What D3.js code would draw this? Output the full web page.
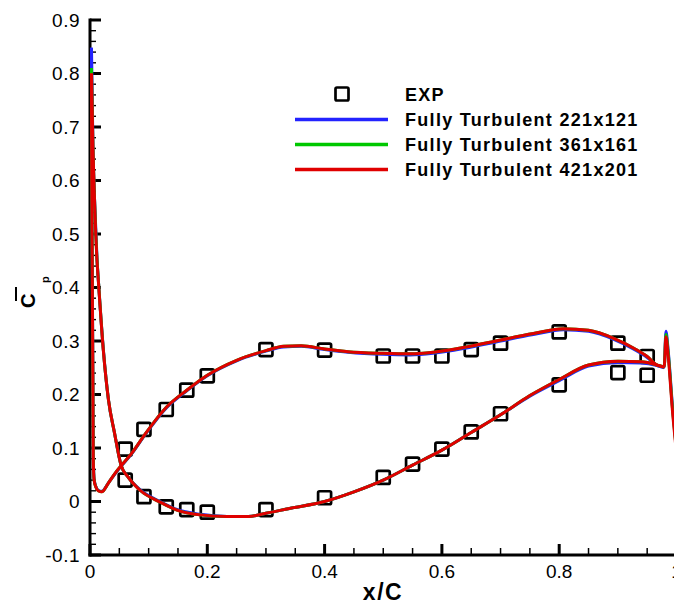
<!DOCTYPE html>
<html><head><meta charset="utf-8">
<script src="https://cdn.jsdelivr.net/npm/d3@7"></script>
<style>
body{margin:0;background:#fff}
svg{display:block;background:#fff}
text{font-family:"Liberation Sans",Arial,Helvetica,sans-serif;fill:#000}
</style>
</head><body>
<svg id="chart" width="674" height="603"></svg>
<script>
// ---------------- data ----------------
const seriesNames = ["Fully Turbulent 221x121", "Fully Turbulent 361x161", "Fully Turbulent 421x201"];
const seriesColors = ["#2323ff", "#00c800", "#e00000"];

// branch with the leading-edge dip (upper Cp over most of the chord)
const xA = [0.0025, 0.003, 0.004, 0.005, 0.0055, 0.007, 0.01, 0.014, 0.02, 0.031, 0.043, 0.054, 0.071, 0.094, 0.131, 0.165, 0.2, 0.25, 0.3, 0.33, 0.36, 0.4, 0.44, 0.5, 0.546, 0.585, 0.642, 0.7, 0.756, 0.807, 0.85, 0.893, 0.928, 0.95, 0.967, 0.979, 0.982, 0.986, 0.993, 1.0];
const cpA221 = [0.848, 0.62, 0.41, 0.21, 0.09, 0.042, 0.028, 0.021, 0.019, 0.034, 0.052, 0.067, 0.089, 0.125, 0.176, 0.207, 0.235, 0.263, 0.281, 0.289, 0.29, 0.284, 0.279, 0.275, 0.274, 0.277, 0.287, 0.3, 0.312, 0.321, 0.318, 0.303, 0.284, 0.269, 0.254, 0.251, 0.318, 0.28, 0.18, 0.1];
const cpA361 = [0.81, 0.61, 0.405, 0.205, 0.085, 0.041, 0.027, 0.02, 0.018, 0.034, 0.053, 0.068, 0.09, 0.126, 0.177, 0.208, 0.236, 0.264, 0.282, 0.29, 0.291, 0.285, 0.28, 0.277, 0.276, 0.279, 0.289, 0.302, 0.314, 0.323, 0.32, 0.305, 0.286, 0.271, 0.255, 0.252, 0.312, 0.276, 0.176, 0.095];
const cpA421 = [0.80, 0.6, 0.4, 0.2, 0.08, 0.04, 0.027, 0.02, 0.018, 0.034, 0.053, 0.068, 0.09, 0.126, 0.177, 0.208, 0.236, 0.264, 0.282, 0.29, 0.291, 0.285, 0.28, 0.277, 0.276, 0.279, 0.289, 0.302, 0.314, 0.323, 0.32, 0.305, 0.286, 0.271, 0.255, 0.252, 0.308, 0.27, 0.171, 0.09];

// branch falling steeply from the stagnation point (lower Cp over most of the chord)
const xB = [0.0025, 0.0051, 0.0077, 0.0119, 0.0145, 0.0227, 0.0315, 0.0418, 0.0529, 0.0648, 0.0853, 0.1194, 0.1483, 0.1875, 0.2336, 0.27, 0.3, 0.34, 0.4, 0.45, 0.5, 0.55, 0.6, 0.65, 0.7, 0.75, 0.8, 0.85, 0.9, 0.94, 0.967, 0.979];
const cpB221 = [0.848, 0.66, 0.567, 0.455, 0.41, 0.285, 0.19, 0.128, 0.068, 0.046, 0.022, 0.0, -0.015, -0.024, -0.028, -0.028, -0.022, -0.013, 0.0, 0.018, 0.04, 0.068, 0.096, 0.129, 0.162, 0.197, 0.226, 0.253, 0.26, 0.259, 0.254, 0.25];
const cpB361 = [0.81, 0.659, 0.566, 0.453, 0.41, 0.284, 0.19, 0.128, 0.068, 0.046, 0.021, -0.001, -0.016, -0.025, -0.028, -0.028, -0.022, -0.013, 0.0, 0.018, 0.04, 0.068, 0.096, 0.129, 0.162, 0.198, 0.228, 0.255, 0.262, 0.261, 0.255, 0.251];
const cpB421 = [0.80, 0.657, 0.564, 0.451, 0.408, 0.283, 0.19, 0.128, 0.068, 0.046, 0.021, -0.001, -0.016, -0.025, -0.028, -0.028, -0.022, -0.013, 0.0, 0.018, 0.04, 0.068, 0.096, 0.129, 0.162, 0.198, 0.228, 0.255, 0.262, 0.261, 0.255, 0.251];

// experiment
const expX = [0.06, 0.092, 0.13, 0.165, 0.2, 0.3, 0.4, 0.5, 0.55, 0.6, 0.65, 0.7, 0.8, 0.9, 0.95];
const expUpper = [0.098, 0.135, 0.172, 0.208, 0.235, 0.284, 0.283, 0.272, 0.272, 0.272, 0.284, 0.296, 0.317, 0.296, 0.271];
const expLower = [0.04, 0.009, -0.01, -0.015, -0.02, -0.015, 0.007, 0.045, 0.07, 0.098, 0.13, 0.164, 0.218, 0.241, 0.236];

const xTickValues = [0, 0.2, 0.4, 0.6, 0.8, 1.0];
const xTickLabels = ["0", "0.2", "0.4", "0.6", "0.8", "1"];
const yTickValues = [-0.1, 0, 0.1, 0.2, 0.3, 0.4, 0.5, 0.6, 0.7, 0.8, 0.9];
const yTickLabels = ["-0.1", "0", "0.1", "0.2", "0.3", "0.4", "0.5", "0.6", "0.7", "0.8", "0.9"];

// ---------------- drawing ----------------
const svg = d3.select("#chart");
const x = d3.scaleLinear().domain([0, 1]).range([90, 676.5]);
const y = d3.scaleLinear().domain([-0.1, 0.9]).range([555, 20]);
const x0 = x(0), y0 = y(-0.1);

const xMinor = d3.range(0, 1.0001, 0.05).filter((v, i) => i % 4 !== 0);
const yMinor = d3.range(-0.1, 0.9001, 0.02).filter((v, i) => i % 5 !== 0);

const axes = svg.append("g").attr("stroke", "#000");
// minor ticks
axes.selectAll("line.xm").data(xMinor).join("line").attr("class", "xm")
  .attr("x1", d => x(d)).attr("x2", d => x(d)).attr("y1", y0).attr("y2", y0 - 7).attr("stroke-width", 1.5);
axes.selectAll("line.ym").data(yMinor).join("line").attr("class", "ym")
  .attr("y1", d => y(d)).attr("y2", d => y(d)).attr("x1", x0).attr("x2", x0 + 6).attr("stroke-width", 1.4);
// major ticks
axes.selectAll("line.xM").data(xTickValues).join("line").attr("class", "xM")
  .attr("x1", d => x(d)).attr("x2", d => x(d)).attr("y1", y0).attr("y2", y0 - 11).attr("stroke-width", 3);
axes.selectAll("line.yM").data(yTickValues).join("line").attr("class", "yM")
  .attr("y1", d => y(d)).attr("y2", d => y(d)).attr("x1", x0).attr("x2", x0 + 11).attr("stroke-width", 3);
// axis lines
axes.append("line").attr("x1", x0).attr("x2", x(1)).attr("y1", y0).attr("y2", y0).attr("stroke-width", 3).attr("stroke-linecap", "square");
axes.append("line").attr("x1", x0).attr("x2", x0).attr("y1", y0).attr("y2", y(0.9)).attr("stroke-width", 3).attr("stroke-linecap", "square");

// tick labels
svg.append("g").selectAll("text").data(xTickValues).join("text")
  .attr("x", d => x(d)).attr("y", 577.5).attr("text-anchor", "middle")
  .style("font-size", "19px").text((d, i) => xTickLabels[i]);
svg.append("g").selectAll("text").data(yTickValues).join("text")
  .attr("x", 80).attr("y", d => y(d) + 6.8).attr("text-anchor", "end")
  .style("font-size", "19px").style("letter-spacing", "0.5px").text((d, i) => yTickLabels[i]);

// axis titles
svg.append("text").attr("x", 383).attr("y", 599.5).attr("text-anchor", "middle")
  .style("font-size", "23px").style("font-weight", "bold").style("letter-spacing", "1.5px").text("x/C");

const yl = svg.append("g").attr("transform", "translate(35,308) rotate(-90)");
yl.append("text").attr("x", 0).attr("y", 0).style("font-size", "20px").style("font-weight", "bold").text("C");
yl.append("line").attr("x1", 7).attr("x2", 21).attr("y1", -19).attr("y2", -19).attr("stroke", "#000").attr("stroke-width", 2);
yl.append("text").attr("x", 25).attr("y", 14).style("font-size", "11px").style("font-weight", "bold").text("p");

// experiment squares
const sq = 13;
function squares(xs, ys) {
  svg.append("g").selectAll("rect").data(xs.map((v, i) => [v, ys[i]])).join("rect")
    .attr("x", d => x(d[0]) - sq / 2).attr("y", d => y(d[1]) - sq / 2)
    .attr("width", sq).attr("height", sq).attr("rx", 1.5)
    .attr("fill", "none").attr("stroke", "#000").attr("stroke-width", 2.7);
}
squares(expX, expUpper);
squares(expX, expLower);

// CFD lines
const line = d3.line().x(d => x(d[0])).y(d => y(d[1])).curve(d3.curveMonotoneX);
const branchesA = [cpA221, cpA361, cpA421];
const branchesB = [cpB221, cpB361, cpB421];
branchesA.forEach((cp, k) => {
  svg.append("path").datum(xA.map((v, i) => [v, cp[i]])).attr("d", line)
    .attr("fill", "none").attr("stroke", seriesColors[k]).attr("stroke-width", 3).attr("stroke-linejoin", "round");
  svg.append("path").datum(xB.map((v, i) => [v, branchesB[k][i]])).attr("d", line)
    .attr("fill", "none").attr("stroke", seriesColors[k]).attr("stroke-width", 3).attr("stroke-linejoin", "round");
});

// legend
const leg = svg.append("g");
leg.append("rect").attr("x", 342 - sq / 2).attr("y", 94 - sq / 2).attr("width", sq).attr("height", sq).attr("rx", 1.5)
  .attr("fill", "none").attr("stroke", "#000").attr("stroke-width", 2.7);
leg.append("text").attr("x", 405).attr("y", 100.5).style("font-size", "18px").style("font-weight", "bold")
  .style("letter-spacing", "1.3px").text("EXP");
seriesNames.forEach((name, k) => {
  const ly = 119.5 + k * 25;
  leg.append("line").attr("x1", 295).attr("x2", 388).attr("y1", ly).attr("y2", ly)
    .attr("stroke", seriesColors[k]).attr("stroke-width", 3.3);
  leg.append("text").attr("x", 405).attr("y", 126 + k * 25).style("font-size", "18px").style("font-weight", "bold")
    .style("letter-spacing", "1.3px").text(name);
});
</script>
</body></html>
